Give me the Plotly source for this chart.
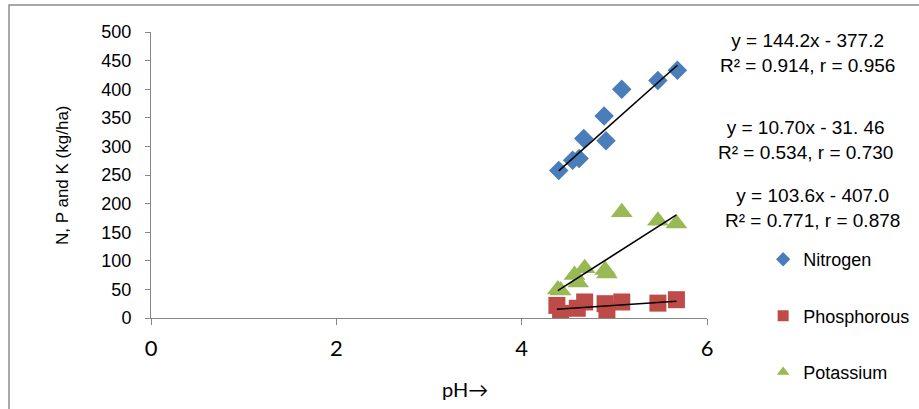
import plotly.graph_objects as go

# Soil pH of each sample and the measured nutrient content (kg/ha)
ph_n = [4.40, 4.55, 4.62, 4.67, 4.89, 4.91, 5.08, 5.47, 5.68]
nitrogen = [258, 276, 279, 314, 353, 310, 400, 415, 433]

ph_p = [4.38, 4.42, 4.60, 4.68, 4.90, 4.92, 5.08, 5.47, 5.67]
phosphorous = [22, 8, 17, 28, 25, 14, 28, 26, 32]

ph_k = [4.39, 4.42, 4.57, 4.61, 4.68, 4.90, 4.92, 5.08, 5.47, 5.67]
potassium = [50, 48, 75, 62, 87, 84, 78, 185, 170, 165]

# Linear fits (slope, intercept) and their printed statistics
fit_n = (144.2, -377.2)
fit_p = (10.70, -31.46)
fit_k = (103.6, -407.0)
eq_labels = [
    "y = 144.2x - 377.2<br>R² = 0.914, r = 0.956",
    "y = 10.70x - 31. 46<br>R² = 0.534, r = 0.730",
    "y = 103.6x - 407.0<br>R² = 0.771, r = 0.878",
]

x_ticks = [0, 2, 4, 6]

BLUE = "#4A7EBB"
RED = "#BE4B48"
GREEN = "#98B954"
AXIS = "#868686"
SANS = "Liberation Sans, Arial, sans-serif"
HUMANIST = "Lato, Open Sans, sans-serif"


def fit_line(xs, fit):
    lo, hi = min(xs), max(xs)
    return [lo, hi], [fit[0] * lo + fit[1], fit[0] * hi + fit[1]]


fig = go.Figure()

fig.add_trace(go.Scatter(x=ph_n, y=nitrogen, mode="markers", showlegend=False,
                         marker=dict(symbol="diamond", size=15, color=BLUE)))
fig.add_trace(go.Scatter(x=ph_k, y=potassium, mode="markers", showlegend=False,
                         marker=dict(symbol="triangle-up", size=19, color=GREEN)))
fig.add_trace(go.Scatter(x=ph_p, y=phosphorous, mode="markers", showlegend=False,
                         marker=dict(symbol="square", size=17, color=RED)))

for xs, fit in [(ph_n, fit_n), (ph_p, fit_p), (ph_k, fit_k)]:
    lx, ly = fit_line(xs, fit)
    fig.add_trace(go.Scatter(x=lx, y=ly, mode="lines", showlegend=False,
                             line=dict(color="black", width=1.6)))

# legend entries with compact symbols
for name, sym, col, grp in [("Nitrogen", "diamond", BLUE, "a"),
                            ("Phosphorous", "square", RED, "b"),
                            ("Potassium", "triangle-up", GREEN, "c")]:
    fig.add_trace(go.Scatter(x=[None], y=[None], mode="markers", name=name,
                             legendgroup=grp,
                             marker=dict(symbol=sym, size=11, color=col)))

eq_pos = [(1.180, 0.928), (1.178, 0.622), (1.189, 0.385)]
annotations = []
for (ax, ay), txt in zip(eq_pos, eq_labels):
    annotations.append(dict(x=ax, y=ay, xref="paper", yref="paper", text=txt,
                            showarrow=False, align="center",
                            xanchor="center", yanchor="middle",
                            font=dict(family=SANS, size=19, color="black")))
annotations.append(dict(x=-0.160, y=0.5, xref="paper", yref="paper",
                        text="N, P and K (kg/ha)", textangle=-90, showarrow=False,
                        xanchor="center", yanchor="middle",
                        font=dict(family=SANS, size=17, color="black")))
annotations.append(dict(x=0.565, y=-0.248, xref="paper", yref="paper",
                        text="pH→", showarrow=False,
                        xanchor="center", yanchor="middle",
                        font=dict(family=HUMANIST, size=20, color="black")))

fig.update_layout(
    width=919, height=409,
    margin=dict(l=151, r=212, t=32, b=91, autoexpand=False),
    paper_bgcolor="white", plot_bgcolor="white",
    annotations=annotations,
    shapes=[dict(type="rect", xref="paper", yref="paper",
                 x0=-0.2554, x1=1.40, y0=-0.35, y1=1.0944,
                 line=dict(color="#8C8C8C", width=1.5), layer="below")],
    legend=dict(x=1.101, y=0.269, xanchor="left", yanchor="top",
                traceorder="grouped", tracegroupgap=30,
                font=dict(family=SANS, size=18, color="black"),
                bgcolor="rgba(0,0,0,0)"),
    xaxis=dict(range=[0, 6], tickvals=x_ticks, showline=True, linecolor=AXIS,
               linewidth=1, ticks="outside", ticklen=6, tickcolor=AXIS,
               showgrid=False, zeroline=False, ticklabelstandoff=5,
               automargin=False,
               tickfont=dict(family=HUMANIST, size=22, color="black")),
    yaxis=dict(range=[0, 500], dtick=50, showline=True, linecolor=AXIS,
               linewidth=1, ticks="outside", ticklen=5, tickcolor=AXIS,
               showgrid=False, zeroline=False, ticklabelstandoff=10,
               automargin=False,
               tickfont=dict(family=SANS, size=18, color="black")),
)

fig.write_html("out.html")
